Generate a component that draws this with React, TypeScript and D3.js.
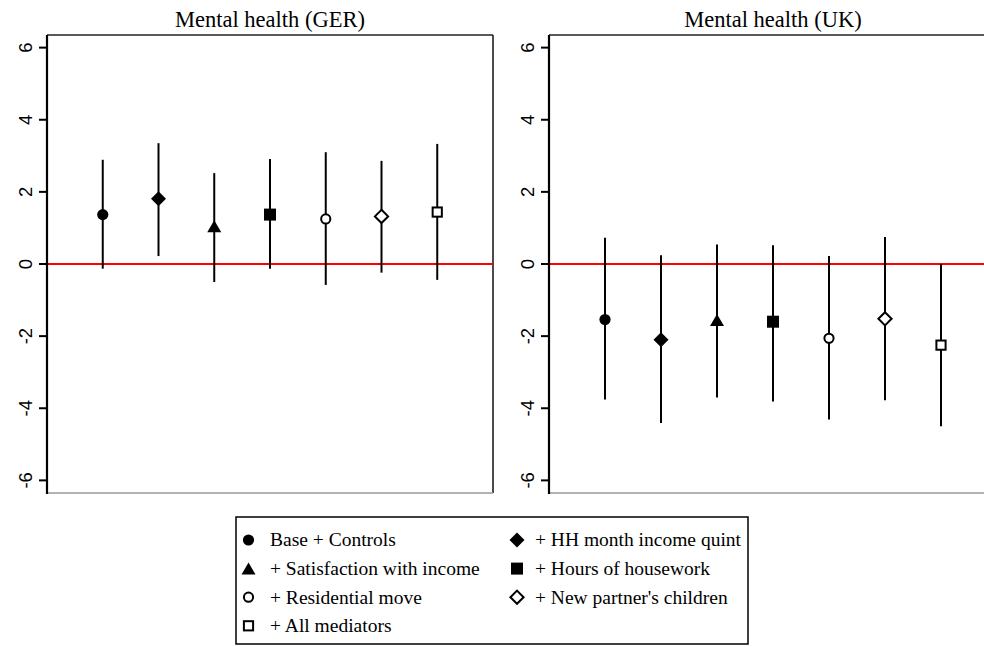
import React from "react";
import * as d3 from "d3";

// Model order along the x axis (positions 1..7)
const models = [
  "Base + Controls",
  "+ HH month income quint",
  "+ Satisfaction with income",
  "+ Hours of housework",
  "+ Residential move",
  "+ New partner's children",
  "+ All mediators",
];
const markerKinds = ["circle", "diamond", "triangle", "square", "ocircle", "odiamond", "osquare"];

// Germany: point estimates and 95% CI bounds
const gerEst = [1.37, 1.81, 1.05, 1.37, 1.25, 1.32, 1.44];
const gerLo = [-0.13, 0.22, -0.5, -0.13, -0.58, -0.24, -0.44];
const gerHi = [2.89, 3.35, 2.52, 2.91, 3.1, 2.86, 3.33];

// UK: point estimates and 95% CI bounds
const ukEst = [-1.54, -2.1, -1.55, -1.6, -2.06, -1.52, -2.25];
const ukLo = [-3.76, -4.41, -3.7, -3.81, -4.31, -3.78, -4.5];
const ukHi = [0.73, 0.24, 0.54, 0.52, 0.22, 0.75, 0.0];

const yTicks = [-6, -4, -2, 0, 2, 4, 6];

// Legend arrangement: two columns, filled row-wise
const legendOrder = [0, 1, 2, 3, 4, 5, 6];

const W = 984;
const H = 647;
const TOP = 35;
const BOTTOM = 493;

function Marker({ kind, x, y }: { kind: string; x: number; y: number }) {
  const sw = 2;
  switch (kind) {
    case "circle":
      return <circle cx={x} cy={y} r={5.6} fill="#000" />;
    case "diamond": {
      const h = 7.5;
      return <path d={`M${x},${y - h}L${x + h},${y}L${x},${y + h}L${x - h},${y}Z`} fill="#000" />;
    }
    case "triangle": {
      const hw = 7, hh = 6;
      return <path d={`M${x},${y - hh}L${x + hw},${y + hh}L${x - hw},${y + hh}Z`} fill="#000" />;
    }
    case "square": {
      const s = 6;
      return <rect x={x - s} y={y - s} width={2 * s} height={2 * s} fill="#000" />;
    }
    case "ocircle":
      return <circle cx={x} cy={y} r={4.6} fill="#fff" stroke="#000" strokeWidth={sw} />;
    case "odiamond": {
      const h = 6.6;
      return (
        <path
          d={`M${x},${y - h}L${x + h},${y}L${x},${y + h}L${x - h},${y}Z`}
          fill="#fff"
          stroke="#000"
          strokeWidth={sw}
        />
      );
    }
    case "osquare": {
      const s = 4.6;
      return (
        <rect x={x - s} y={y - s} width={2 * s} height={2 * s} fill="#fff" stroke="#000" strokeWidth={sw} />
      );
    }
  }
  return null;
}

function Panel({
  title,
  left,
  right,
  est,
  lo,
  hi,
}: {
  title: string;
  left: number;
  right: number;
  est: number[];
  lo: number[];
  hi: number[];
}) {
  const x = d3.scaleLinear().domain([0, 8]).range([left, right]);
  const y = d3.scaleLinear().domain([-6.35, 6.35]).range([BOTTOM, TOP]);
  return (
    <g>
      <text
        x={(left + right) / 2}
        y={27}
        textAnchor="middle"
        fontFamily="'Liberation Serif', 'Times New Roman', serif"
        fontSize={22.5}
        fill="#000"
      >
        {title}
      </text>
      {/* frame */}
      <line x1={left} x2={right} y1={TOP} y2={TOP} stroke="#222" strokeWidth={1.3} />
      <line x1={right} x2={right} y1={TOP} y2={BOTTOM} stroke="#111" strokeWidth={1.5} />
      <line x1={left} x2={right} y1={BOTTOM} y2={BOTTOM} stroke="#999" strokeWidth={1.5} />
      {/* zero reference */}
      <line x1={left} x2={right} y1={y(0)} y2={y(0)} stroke="#ff0000" strokeWidth={2} />
      {/* y axis */}
      <line x1={left} x2={left} y1={TOP} y2={BOTTOM + 1} stroke="#000" strokeWidth={2.2} />
      {yTicks.map((t) => (
        <g key={t}>
          <line x1={left - 8} x2={left} y1={y(t)} y2={y(t)} stroke="#000" strokeWidth={2} />
          <text
            transform={`translate(${left - 15},${y(t)}) rotate(-90)`}
            textAnchor="middle"
            fontFamily="'Liberation Sans', Arial, sans-serif"
            fontSize={18.5}
            fill="#000"
          >
            {t}
          </text>
        </g>
      ))}
      {/* confidence intervals and estimates */}
      {est.map((v, i) => (
        <g key={i}>
          <line x1={x(i + 1)} x2={x(i + 1)} y1={y(lo[i])} y2={y(hi[i])} stroke="#000" strokeWidth={2} />
          <Marker kind={markerKinds[i]} x={x(i + 1)} y={y(v)} />
        </g>
      ))}
    </g>
  );
}

export default function App() {
  const lgLeft = 236;
  const lgTop = 517;
  const rowY = (r: number) => 540 + r * 28.6;
  const colMarkerX = [248.5, 517];
  const colTextX = [270, 535];
  return (
    <svg
      width={W}
      height={H}
      viewBox={`0 0 ${W} ${H}`}
      style={{ position: "absolute", left: 0, top: 0, background: "#fff" }}
    >
      <rect x={0} y={0} width={W} height={H} fill="#fff" />
      <Panel title="Mental health (GER)" left={47} right={493} est={gerEst} lo={gerLo} hi={gerHi} />
      <Panel title="Mental health (UK)" left={549} right={997} est={ukEst} lo={ukLo} hi={ukHi} />
      {/* legend */}
      <rect x={lgLeft} y={lgTop} width={512} height={127} fill="#fff" stroke="#000" strokeWidth={1.5} />
      {legendOrder.map((m, k) => {
        const col = k % 2;
        const row = Math.floor(k / 2);
        return (
          <g key={m}>
            <Marker kind={markerKinds[m]} x={colMarkerX[col]} y={rowY(row)} />
            <text
              x={colTextX[col]}
              y={rowY(row)}
              dy="0.33em"
              fontFamily="'Liberation Serif', 'Times New Roman', serif"
              fontSize={19.5}
              fill="#000"
            >
              {models[m]}
            </text>
          </g>
        );
      })}
    </svg>
  );
}
